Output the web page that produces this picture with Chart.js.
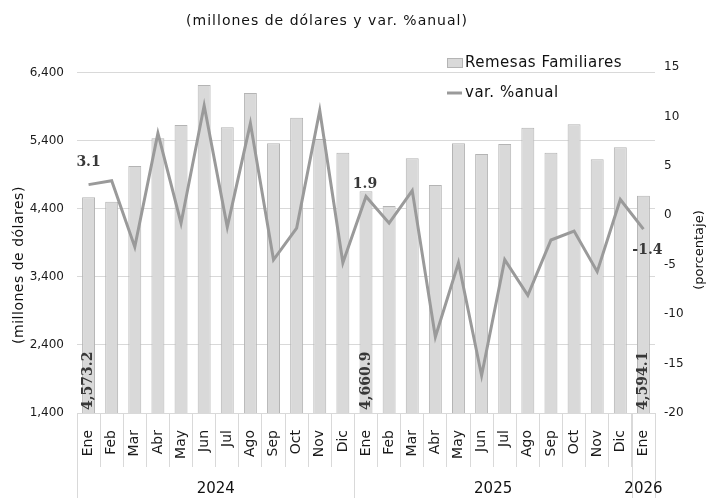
<!DOCTYPE html>
<html>
<head>
<meta charset="utf-8">
<script src="https://cdn.jsdelivr.net/npm/chart.js@4/dist/chart.umd.min.js"></script>
<style>
  html, body { margin: 0; padding: 0; background: #fff; }
  .chart-container { width: 708px; height: 498px; }
</style>
</head>
<body>
<div class="chart-container"><canvas id="chart" width="708" height="498"></canvas></div>
<script>
// Remesas familiares (millones de dólares) y variación % anual
const months = ['Ene', 'Feb', 'Mar', 'Abr', 'May', 'Jun', 'Jul', 'Ago', 'Sep', 'Oct', 'Nov', 'Dic',
  'Ene', 'Feb', 'Mar', 'Abr', 'May', 'Jun', 'Jul', 'Ago', 'Sep', 'Oct', 'Nov', 'Dic', 'Ene'];
const years = ['2024', '2025', '2026'];
const monthsPerYear = [12, 12, 1];

const remesas = [4573.2, 4505, 5032, 5440, 5635, 6224, 5601, 6104, 5366, 5740, 5430, 5228,
  4660.9, 4444, 5145, 4753, 5366, 5209, 5356, 5596, 5228, 5645, 5130, 5307, 4594.1];
const variacion = [3.1, 3.5, -3.2, 8.3, -0.8, 11.1, -1.2, 9.3, -4.5, -1.3, 10.6, -4.8,
  1.9, -0.8, 2.5, -12.3, -4.8, -16.2, -4.5, -8.1, -2.5, -1.6, -5.7, 1.6, -1.4];

const leftTicks = [1400, 2400, 3400, 4400, 5400, 6400];
const rightTicks = [-20, -15, -10, -5, 0, 5, 10, 15];
const labeledIdx = [0, 12, 24]; // meses con etiqueta de dato

const titleText = '(millones de dólares y var. %anual)';
const leftTitle = '(millones de dólares)';
const rightTitle = '(porcentaje)';

Chart.defaults.font.family = "'DejaVu Sans', sans-serif";
Chart.defaults.color = '#1a1a1a';

const barFill = '#d9d9d9';
const barBorder = '#b4b4b4';
const lineColor = '#9a9a9a';

// textos, leyenda, etiquetas de años y de datos
const decorPlugin = {
  id: 'decor',
  afterDraw(chart) {
    const ctx = chart.ctx;
    const x = chart.scales.x;
    const area = chart.chartArea;
    ctx.save();

    // titulo
    ctx.fillStyle = '#111';
    ctx.font = "14px 'DejaVu Sans'";
    ctx.letterSpacing = '1px';
    ctx.textAlign = 'center';
    ctx.textBaseline = 'middle';
    ctx.fillText(titleText, 327, 21);

    // titulos de ejes
    ctx.letterSpacing = '0.5px';
    ctx.font = "14px 'DejaVu Sans'";
    ctx.save();
    ctx.translate(19, 265);
    ctx.rotate(-Math.PI / 2);
    ctx.fillText(leftTitle, 0, 0);
    ctx.restore();
    ctx.letterSpacing = '0px';
    ctx.font = "13px 'DejaVu Sans'";
    ctx.save();
    ctx.translate(700, 250);
    ctx.rotate(-Math.PI / 2);
    ctx.fillText(rightTitle, 0, 0);
    ctx.restore();

    // separadores y etiquetas de años
    const half = (x.getPixelForValue(1) - x.getPixelForValue(0)) / 2;
    ctx.strokeStyle = '#d9d9d9';
    ctx.lineWidth = 1;
    let start = 0;
    const bounds = [0];
    monthsPerYear.forEach(n => { start += n; bounds.push(start); });
    bounds.forEach(b => {
      const px = Math.round(x.getPixelForValue(b) - half) + 0.5;
      ctx.beginPath();
      ctx.moveTo(px, area.bottom);
      ctx.lineTo(px, chart.height);
      ctx.stroke();
    });
    ctx.font = "15px 'DejaVu Sans'";
    ctx.fillStyle = '#111';
    years.forEach((yr, i) => {
      const c = (x.getPixelForValue(bounds[i]) + x.getPixelForValue(bounds[i + 1] - 1)) / 2;
      ctx.fillText(yr, c, 489);
    });

    // leyenda
    ctx.textAlign = 'left';
    ctx.font = "15px 'DejaVu Sans'";
    ctx.letterSpacing = '0.5px';
    ctx.fillStyle = barFill;
    ctx.fillRect(447, 58, 15, 9);
    ctx.strokeStyle = barBorder;
    ctx.strokeRect(447.5, 58.5, 15, 9);
    ctx.fillStyle = '#111';
    ctx.fillText(chart.data.datasets[1].label, 465, 63);
    ctx.strokeStyle = lineColor;
    ctx.lineWidth = 3;
    ctx.beginPath();
    ctx.moveTo(447, 93);
    ctx.lineTo(462, 93);
    ctx.stroke();
    ctx.fillText(chart.data.datasets[0].label, 465, 93);
    ctx.letterSpacing = '0px';

    // etiquetas de datos
    ctx.fillStyle = '#383838';
    ctx.font = "bold 14px 'DejaVu Serif'";
    const barMeta = chart.getDatasetMeta(1);
    labeledIdx.forEach(i => {
      const el = barMeta.data[i];
      ctx.save();
      ctx.translate(el.x, area.bottom - 3);
      ctx.rotate(-Math.PI / 2);
      ctx.textAlign = 'left';
      ctx.fillText(remesas[i].toLocaleString('en-US', { minimumFractionDigits: 1 }), 0, 0);
      ctx.restore();
    });
    const lineMeta = chart.getDatasetMeta(0);
    const offsets = [[0, -22], [-1, -12], [4, 21]];
    labeledIdx.forEach((i, k) => {
      const el = lineMeta.data[i];
      ctx.textAlign = 'center';
      ctx.fillText(variacion[i].toFixed(1), el.x + offsets[k][0], el.y + offsets[k][1]);
    });

    ctx.restore();
  }
};

new Chart(document.getElementById('chart'), {
  type: 'bar',
  data: {
    labels: months,
    datasets: [
      {
        type: 'line',
        label: 'var. %anual',
        data: variacion,
        yAxisID: 'y1',
        borderColor: lineColor,
        borderWidth: 3,
        pointRadius: 0,
        tension: 0,
        order: 0,
      },
      {
        label: 'Remesas Familiares',
        data: remesas,
        yAxisID: 'y',
        backgroundColor: barFill,
        borderColor: barBorder,
        borderWidth: 1,
        categoryPercentage: 1,
        barPercentage: 0.56,
        order: 1,
      },
    ],
  },
  options: {
    responsive: false,
    animation: false,
    layout: { padding: { top: 67, left: 0, right: 0, bottom: 0 } },
    plugins: {
      legend: { display: false },
      tooltip: { enabled: false },
    },
    scales: {
      x: {
        grid: { offset: true, drawOnChartArea: false, drawTicks: true, tickLength: 54, color: '#d9d9d9' },
        border: { display: false },
        ticks: {
          minRotation: 90,
          maxRotation: 90,
          autoSkip: false,
          padding: -37,
          font: { size: 14 },
        },
        afterFit: (scale) => { scale.height = 85; },
      },
      y: {
        position: 'left',
        min: 1400,
        max: 6488,
        afterBuildTicks: (axis) => { axis.ticks = leftTicks.map(v => ({ value: v })); },
        grid: { color: '#d9d9d9', drawTicks: false },
        border: { display: false },
        ticks: {
          padding: 13,
          font: { size: 12 },
          callback: (v) => v.toLocaleString('en-US'),
        },
        afterFit: (scale) => { scale.width = 77; },
      },
      y1: {
        position: 'right',
        min: -20,
        max: 15,
        afterBuildTicks: (axis) => { axis.ticks = rightTicks.map(v => ({ value: v })); },
        grid: { drawOnChartArea: false, drawTicks: false },
        border: { display: false },
        ticks: {
          padding: 9,
          font: { size: 12 },
        },
        afterFit: (scale) => { scale.width = 53; },
      },
    },
  },
  plugins: [decorPlugin],
});
</script>
</body>
</html>
